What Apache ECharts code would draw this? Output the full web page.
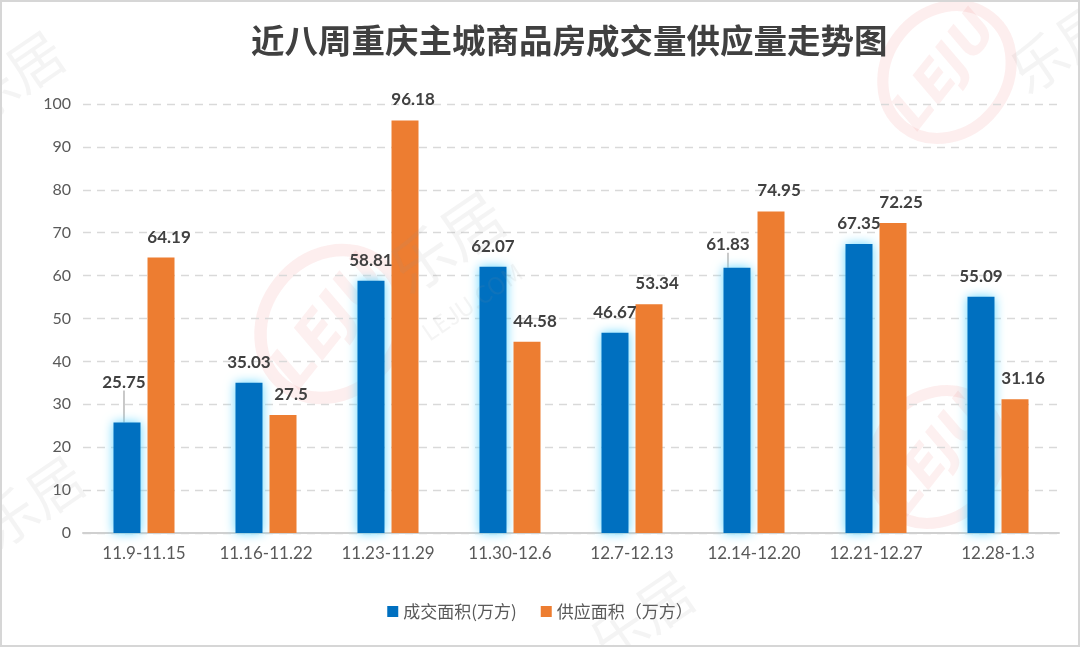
<!DOCTYPE html>
<html><head><meta charset="utf-8">
<script src="https://cdn.jsdelivr.net/npm/echarts@6/dist/echarts.min.js"></script>
<style>
html,body{margin:0;padding:0;background:#fff;}
#c{width:1080px;height:647px;box-sizing:border-box;border:2px solid #d6d6d6;}
</style></head>
<body><div id="c"></div>
<script>
var categories = ['11.9-11.15','11.16-11.22','11.23-11.29','11.30-12.6','12.7-12.13','12.14-12.20','12.21-12.27','12.28-1.3'];
var dealArea = [25.75, 35.03, 58.81, 62.07, 46.67, 61.83, 67.35, 55.09];
var supplyArea = [64.19, 27.5, 96.18, 44.58, 53.34, 74.95, 72.25, 31.16];
var seriesNames = ['成交面积(万方)', '供应面积（万方）'];
var titleText = '近八周重庆主城商品房成交量供应量走势图';

var numFont = 'Lato, "Noto Sans CJK SC", sans-serif';
var cjkFont = '"Noto Sans CJK SC", sans-serif';
var chart = echarts.init(document.getElementById('c'), null, {renderer:'canvas'});
var leaderIdx = [0, 5];

function logo(cx, cy, r, rot) {
  return {
    type: 'group', x: cx, y: cy, rotation: rot, silent: true, z: 100,
    children: [
      {type: 'ellipse', shape: {cx: 0, cy: 0, rx: r, ry: r * 0.86},
       style: {fill: 'none', stroke: 'rgba(232,70,70,0.09)', lineWidth: r * 0.16}},
      {type: 'text', style: {text: 'LEJU', x: 0, y: 0, align: 'center', verticalAlign: 'middle',
        font: 'italic bold ' + Math.round(r * 0.75) + 'px "DejaVu Sans"', fill: 'rgba(232,70,70,0.08)'}}
    ]
  };
}
function wmText(txt, x, y, size, rot) {
  return {type: 'text', x: x, y: y, rotation: rot, silent: true, z: 100,
    style: {text: txt, align: 'center', verticalAlign: 'middle',
      font: size + 'px "Noto Sans CJK SC"', fill: 'rgba(150,150,150,0.10)'}};
}

var option = {
  animation: false,
  backgroundColor: '#fff',
  title: {
    text: titleText, left: 244, top: 17,
    textStyle: {fontFamily: cjkFont, fontSize: 33.5, fontWeight: 'bold', color: '#404040'}
  },
  legend: {
    bottom: 20, left: 'center', itemWidth: 11, itemHeight: 11, itemGap: 24, icon: 'rect',
    textStyle: {fontFamily: cjkFont, fontSize: 17, color: '#595959'},
    data: seriesNames
  },
  grid: {left: 81, right: 19, top: 102, bottom: 112, containLabel: false},
  xAxis: {
    type: 'category', data: categories,
    axisLine: {lineStyle: {color: '#d0d0d0', width: 2}},
    axisTick: {show: false},
    axisLabel: {fontFamily: numFont, fontSize: 17, color: '#595959', margin: 12}
  },
  yAxis: {
    type: 'value', min: 0, max: 100, interval: 10,
    axisLine: {show: false}, axisTick: {show: false},
    axisLabel: {fontFamily: numFont, fontSize: 16, color: '#595959', margin: 12},
    splitLine: {lineStyle: {color: '#d9d9d9', type: [8, 6], width: 1.3}}
  },
  graphic: [
    logo(330, 322, 78, 0.9),
    logo(945, 70, 70, 0.9),
    logo(935, 455, 70, 0.9),
    wmText('乐居', 445, 240, 62, 0.6),
    wmText('LEJU.COM', 470, 300, 24, 0.6),
    wmText('乐居', 1060, 45, 56, 0.6),
    wmText('乐居', 10, 75, 56, 0.6),
    wmText('乐居', 30, 500, 56, 0.6),
    wmText('乐居', 640, 615, 56, 0.6)
  ],
  series: [
    {
      name: seriesNames[0], type: 'bar', barWidth: 27, barGap: '26%',
      data: dealArea.map(function(v, i){
        return {value: v, labelLine: {show: leaderIdx.indexOf(i) >= 0}};
      }),
      itemStyle: {color: '#0070C0', shadowColor: 'rgba(100,215,255,1)', shadowBlur: 11},
      label: {show: true, position: 'top', distance: 12, offset: [-7, 0],
        fontFamily: numFont, fontSize: 17, fontWeight: 'bold', color: '#404040'},
      labelLine: {lineStyle: {color: '#a6a6a6', width: 1.2}},
      labelLayout: function(p){
        if (p.dataIndex === 0) {
          return {x: p.labelRect.x + p.labelRect.width/2 + 4, y: p.labelRect.y + p.labelRect.height/2 - 20, align: 'center', verticalAlign: 'middle'};
        }
        if (p.dataIndex === 5) {
          return {x: p.labelRect.x + p.labelRect.width/2 - 2, y: p.labelRect.y + p.labelRect.height/2 - 3, align: 'center', verticalAlign: 'middle'};
        }
        return {};
      }
    },
    {
      name: seriesNames[1], type: 'bar', barWidth: 27,
      data: supplyArea,
      itemStyle: {color: '#ED7D31'},
      label: {show: true, position: 'top', distance: 12, offset: [8, 0],
        fontFamily: numFont, fontSize: 17, fontWeight: 'bold', color: '#404040'}
    }
  ]
};
chart.setOption(option);
</script>
</body></html>
